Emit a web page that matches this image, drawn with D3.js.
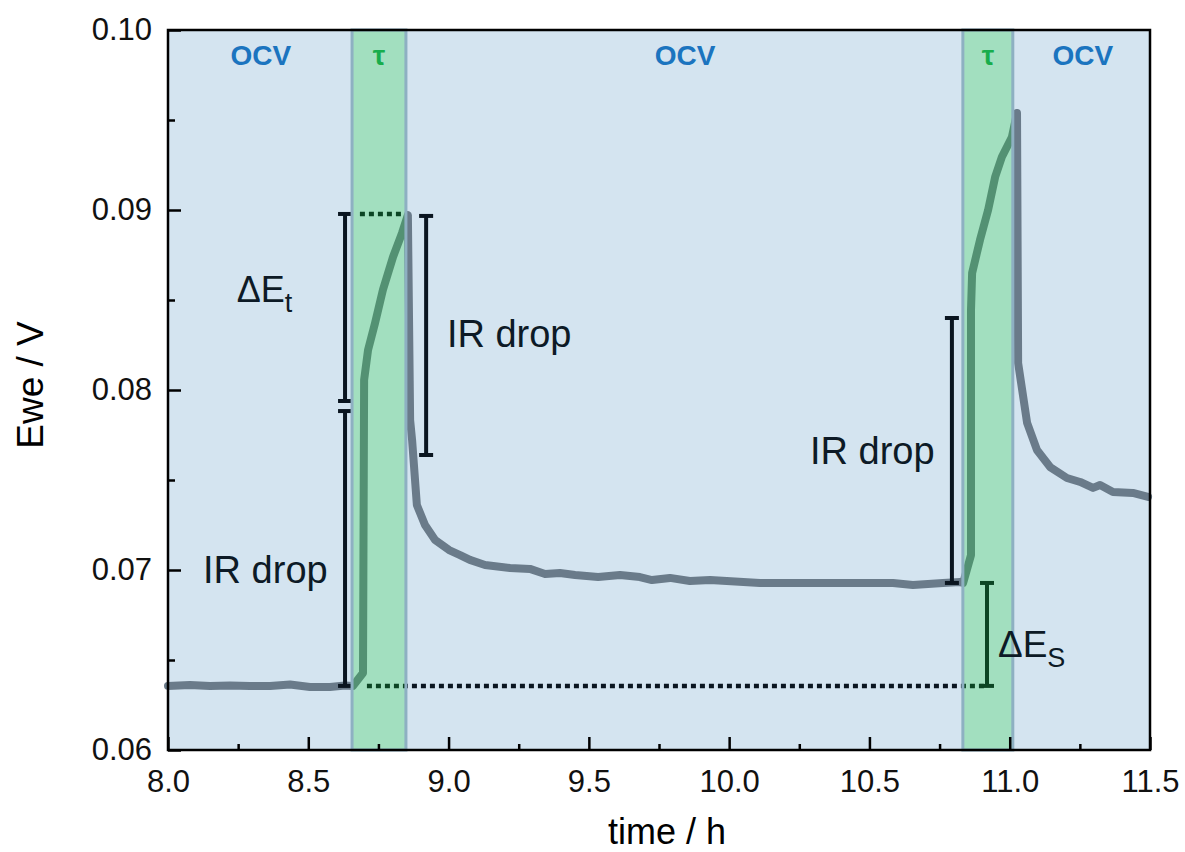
<!DOCTYPE html>
<html>
<head>
<meta charset="utf-8">
<script src="https://d3js.org/d3.v7.min.js"></script>
<style>
  body { margin: 0; background: #fff; }
  text { font-family: "Liberation Sans", Arial, sans-serif; }
</style>
</head>
<body>
<div id="my_dataviz"></div>
<script>
// potential trace (time in h, Ewe in V)
var timeH = [8.000, 8.078, 8.150, 8.221, 8.292, 8.364, 8.435, 8.506, 8.577, 8.631, 8.659,
    8.695, 8.699, 8.713, 8.738, 8.766, 8.802, 8.834, 8.855,
    8.863, 8.870, 8.887, 8.916, 8.952, 9.002, 9.041, 9.076, 9.130, 9.219, 9.290, 9.344,
    9.397, 9.451, 9.533, 9.611, 9.682, 9.725, 9.789, 9.860, 9.932, 10.110, 10.349,
    10.584, 10.655, 10.762, 10.823, 10.834,
    10.862, 10.862, 10.866, 10.894, 10.923, 10.948, 10.972, 11.008, 11.026,
    11.030, 11.062, 11.097, 11.144, 11.204, 11.251, 11.297, 11.322, 11.368, 11.439, 11.493];
var eweV = [0.06356, 0.06361, 0.06356, 0.06358, 0.06356, 0.06356, 0.06364, 0.06350, 0.06350, 0.06358, 0.06356,
    0.06428, 0.08056, 0.08222, 0.08372, 0.08556, 0.08739, 0.08872, 0.08972,
    0.07833, 0.07722, 0.07361, 0.07250, 0.07167, 0.07111, 0.07083, 0.07056, 0.07028, 0.07011, 0.07006, 0.06978,
    0.06983, 0.06972, 0.06961, 0.06972, 0.06961, 0.06944, 0.06956, 0.06939, 0.06944, 0.06928, 0.06928,
    0.06928, 0.06917, 0.06928, 0.06933, 0.06928,
    0.07083, 0.08444, 0.08650, 0.08833, 0.09000, 0.09183, 0.09294, 0.09406, 0.09539,
    0.08150, 0.07817, 0.07667, 0.07572, 0.07511, 0.07489, 0.07456, 0.07472, 0.07433, 0.07428, 0.07406];

// current pulse windows
var tauStart = [8.656, 10.833];
var tauEnd = [8.848, 11.011];

// region labels on top
var regionText = ["OCV", "\u03c4", "OCV", "\u03c4", "OCV"];
var regionTime = [8.331, 8.752, 9.843, 10.923, 11.261];

// measuring bars
var barTime = [8.631, 8.631, 8.920, 10.794, 10.919];
var barLow = [0.07939, 0.06356, 0.07639, 0.06928, 0.06356];
var barHigh = [0.08978, 0.07883, 0.08967, 0.08400, 0.06928];

// dotted guide lines
var guideFrom = [8.684, 8.709];
var guideTo = [8.855, 10.919];
var guideV = [0.08978, 0.06356];

// "IR drop" labels (left x, baseline)
var irTime = [8.994, 8.125, 10.288];
var irV = [0.08239, 0.06928, 0.07589];

var xTicks = [8.0, 8.5, 9.0, 9.5, 10.0, 10.5, 11.0, 11.5];
var yTicks = [0.06, 0.07, 0.08, 0.09, 0.10];

var margin = { top: 30, right: 35, bottom: 102, left: 168 },
    width = 1185 - margin.left - margin.right,
    height = 852 - margin.top - margin.bottom;

var svg = d3.select("#my_dataviz")
    .append("svg")
    .attr("width", width + margin.left + margin.right)
    .attr("height", height + margin.top + margin.bottom)
    .append("g")
    .attr("transform", "translate(" + margin.left + "," + margin.top + ")");

var x = d3.scaleLinear().domain([8.0, 11.5]).range([0, width]);
var y = d3.scaleLinear().domain([0.06, 0.10]).range([height, 0]);

svg.append("rect")
    .attr("width", width)
    .attr("height", height)
    .style("fill", "#d4e4f0");

// dotted guides
guideV.forEach(function (v, i) {
    svg.append("line")
        .attr("x1", x(guideFrom[i]))
        .attr("x2", x(guideTo[i]))
        .attr("y1", y(v))
        .attr("y2", y(v))
        .style("stroke", "#0a1520")
        .style("stroke-width", 4.5)
        .style("stroke-dasharray", "5,4");
});

// trace
var pts = timeH.map(function (t, i) { return [t, eweV[i]]; });
svg.append("path")
    .datum(pts)
    .attr("d", d3.line()
        .x(function (d) { return x(d[0]); })
        .y(function (d) { return y(d[1]); }))
    .style("fill", "none")
    .style("stroke", "#6a7b8a")
    .style("stroke-width", 8)
    .style("stroke-linejoin", "round")
    .style("stroke-linecap", "round");

// bars with caps
barTime.forEach(function (t, i) {
    var g = svg.append("g").style("stroke", "#0a1520").style("stroke-width", 4);
    g.append("line")
        .attr("x1", x(t)).attr("x2", x(t))
        .attr("y1", y(barLow[i])).attr("y2", y(barHigh[i]));
    [barLow[i], barHigh[i]].forEach(function (v) {
        g.append("line")
            .attr("x1", x(t) - 7).attr("x2", x(t) + 7)
            .attr("y1", y(v)).attr("y2", y(v));
    });
});

// pulse bands drawn over the trace
tauStart.forEach(function (t, i) {
    svg.append("rect")
        .attr("x", x(t))
        .attr("y", 0)
        .attr("width", x(tauEnd[i]) - x(t))
        .attr("height", height)
        .style("fill", "rgb(21,208,49)")
        .style("fill-opacity", 0.26)
        .style("stroke", "#8eb0c2")
        .style("stroke-width", 3);
});

// labels
regionText.forEach(function (d, i) {
    svg.append("text")
        .attr("x", x(regionTime[i]))
        .attr("y", 35)
        .attr("text-anchor", "middle")
        .style("font-size", "28px")
        .style("font-weight", "bold")
        .style("fill", d == "OCV" ? "#1b74bf" : "#18ad4c")
        .text(d);
});

irTime.forEach(function (t, i) {
    svg.append("text")
        .attr("x", x(t))
        .attr("y", y(irV[i]))
        .style("font-size", "38px")
        .style("fill", "#0d1a26")
        .text("IR drop");
});

var dEt = svg.append("text")
    .attr("x", x(8.245))
    .attr("y", y(0.08489))
    .style("font-size", "36px")
    .style("fill", "#0d1a26");
dEt.append("tspan").text("\u0394E");
dEt.append("tspan").attr("dy", 10).style("font-size", "27px").text("t");

var dEs = svg.append("text")
    .attr("x", x(10.958))
    .attr("y", y(0.06517))
    .style("font-size", "37px")
    .style("fill", "#0d1a26");
dEs.append("tspan").text("\u0394E");
dEs.append("tspan").attr("dy", 10).style("font-size", "27px").text("S");

// axes, ticks inside
svg.append("g")
    .attr("transform", "translate(0," + height + ")")
    .call(d3.axisBottom(x).tickValues(xTicks).tickSize(-13).tickPadding(20)
        .tickFormat(d3.format(".1f")));
svg.append("g")
    .attr("transform", "translate(0," + height + ")")
    .call(d3.axisBottom(x).tickValues(d3.range(8.25, 11.5, 0.5)).tickSize(-6).tickFormat(""));
svg.append("g")
    .call(d3.axisLeft(y).tickValues(yTicks).tickSize(-13).tickPadding(16)
        .tickFormat(d3.format(".2f")));
svg.append("g")
    .call(d3.axisLeft(y).tickValues([0.065, 0.075, 0.085, 0.095]).tickSize(-7).tickFormat(""));

svg.selectAll(".domain").remove();
svg.selectAll(".tick line").style("stroke", "#000").style("stroke-width", 2.5);
svg.selectAll(".tick text")
    .style("font-size", "31px")
    .style("font-family", "Liberation Sans, Arial, sans-serif")
    .style("fill", "#111");

svg.append("rect")
    .attr("width", width)
    .attr("height", height)
    .style("fill", "none")
    .style("stroke", "#000")
    .style("stroke-width", 2.5);

svg.append("text")
    .attr("text-anchor", "middle")
    .attr("x", width / 2 + 8)
    .attr("y", height + 94)
    .style("font-size", "36px")
    .text("time / h");

svg.append("text")
    .attr("text-anchor", "middle")
    .attr("transform", "rotate(-90)")
    .attr("x", -355)
    .attr("y", -margin.left + 43)
    .style("font-size", "37px")
    .text("Ewe / V");
</script>
</body>
</html>
